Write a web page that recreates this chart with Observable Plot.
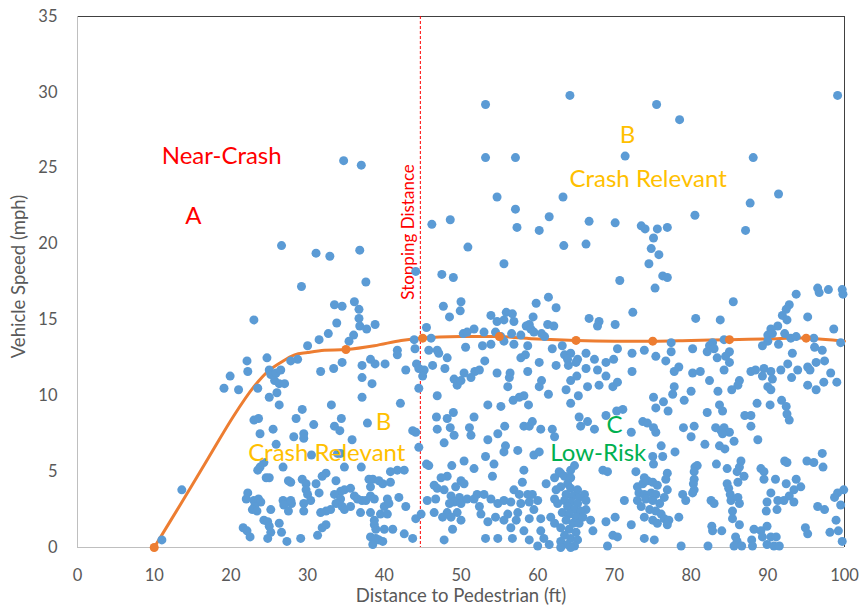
<!DOCTYPE html>
<html><head><meta charset="utf-8">
<script src="https://cdn.jsdelivr.net/npm/d3@7"></script>
<script src="https://cdn.jsdelivr.net/npm/@observablehq/plot@0.6"></script>
<style>body{margin:0;background:#fff;} #chart{width:861px;height:607px;}</style>
</head><body><div id="chart"></div>
<script>
// [distance (ft), speed (mph)] observations, grouped by region of the picture
const pointsNear = [[11.0,0.5],[13.6,3.8],[23.0,15.0],[19.1,10.5],[19.9,11.3],[21.0,10.4],[22.1,12.3],[22.2,11.6],[23.5,10.5],[24.7,12.5],[25.0,11.7],[25.2,11.4],[25.9,11.5],[26.5,11.7],[25.7,11.0],[26.3,10.8],[27.0,10.8],[25.0,9.9],[26.0,10.2],[26.3,9.4],[23.0,8.4],[23.6,8.5],[23.8,7.5],[25.5,7.8],[25.9,6.8],[26.8,5.3],[24.3,5.6],[23.8,5.3],[23.5,5.1],[24.6,4.6],[25.0,4.6],[27.5,4.4],[22.2,3.6],[22.0,3.2],[23.0,3.1],[23.6,3.2],[23.9,3.0],[23.1,2.7],[22.8,2.5],[23.4,2.4],[25.2,2.5],[26.8,3.1],[26.9,2.8],[27.9,2.9],[27.5,2.4],[24.3,1.8],[24.8,1.7],[25.0,1.4],[26.3,1.6],[21.6,1.3],[22.1,1.1],[22.5,0.7],[25.2,1.0],[24.8,0.6],[26.6,1.0],[27.3,0.4],[26.6,19.9]];

const pointsMid = [[33.5,16.0],[34.5,15.9],[36.1,16.2],[36.7,15.7],[33.8,14.8],[36.7,15.1],[36.8,14.6],[37.7,14.4],[38.8,14.7],[32.7,14.1],[31.5,13.7],[30.0,13.3],[36.0,14.0],[35.4,13.6],[28.7,12.4],[27.8,12.3],[34.5,12.2],[33.4,11.8],[31.7,11.6],[37.1,12.0],[38.2,12.4],[38.8,12.1],[40.1,12.1],[41.7,13.0],[41.7,12.7],[42.8,11.7],[44.0,13.1],[43.9,13.7],[44.2,12.1],[44.5,11.8],[45.2,11.7],[45.0,11.3],[44.5,10.5],[45.5,14.5],[46.1,13.8],[45.8,13.0],[46.9,13.0],[47.1,12.8],[47.7,15.9],[48.5,15.2],[50.0,16.2],[49.9,15.6],[46.3,12.0],[48.2,12.5],[47.9,11.8],[50.3,14.1],[50.8,14.2],[50.6,13.2],[50.4,11.5],[49.1,11.1],[49.5,10.7],[50.0,11.0],[37.1,11.2],[38.4,10.8],[37.1,9.9],[42.1,9.5],[46.9,10.0],[33.1,9.4],[29.3,9.1],[28.5,8.5],[30.8,8.1],[33.5,8.0],[34.4,8.5],[34.2,7.7],[37.8,8.2],[29.5,7.5],[28.2,7.3],[29.5,7.2],[35.8,7.1],[43.7,7.7],[44.1,7.6],[44.5,6.6],[46.8,8.6],[48.2,8.5],[49.0,8.9],[46.9,7.8],[48.6,7.9],[49.1,7.4],[47.8,6.9],[51.1,7.9],[30.5,6.1],[33.9,6.2],[34.3,6.2],[45.5,5.5],[45.8,5.4],[48.8,5.4],[50.4,5.7],[34.8,5.3],[37.0,5.3],[42.6,5.1],[41.7,5.1],[40.8,5.0],[32.4,4.9],[31.9,4.7],[27.8,4.3],[29.3,4.5],[29.8,4.2],[31.1,4.2],[33.7,4.4],[38.0,4.5],[38.5,4.5],[39.3,4.4],[39.8,4.2],[40.8,4.3],[38.2,4.0],[34.8,3.8],[35.6,3.9],[34.3,3.7],[33.5,3.5],[29.8,3.8],[30.0,3.5],[30.4,3.1],[29.5,2.9],[31.5,3.6],[27.8,3.1],[36.1,3.4],[36.5,3.2],[37.1,3.1],[37.6,3.1],[38.2,3.4],[38.7,3.2],[40.4,3.2],[41.9,3.3],[45.6,3.1],[40.0,2.7],[40.6,2.9],[42.8,2.7],[34.3,3.2],[33.7,2.9],[33.0,2.5],[32.4,2.4],[31.7,2.3],[34.5,2.7],[34.8,2.5],[35.6,2.7],[29.5,2.4],[36.9,2.3],[38.2,2.3],[39.5,2.2],[40.4,2.2],[44.1,1.9],[44.8,2.2],[46.5,4.1],[46.9,3.9],[47.8,3.8],[48.2,4.7],[47.4,4.6],[50.0,4.4],[50.4,4.2],[49.3,4.0],[48.7,3.4],[49.8,3.3],[49.1,3.0],[50.0,2.9],[50.8,3.2],[48.5,2.9],[48.2,2.3],[49.5,2.3],[50.0,1.8],[46.5,2.3],[47.6,2.0],[48.7,2.0],[46.7,3.2],[31.9,1.3],[32.4,1.5],[29.1,0.6],[31.3,0.8],[38.7,1.8],[38.7,1.5],[38.9,1.2],[40.0,1.2],[41.1,1.2],[42.6,0.9],[38.2,0.7],[38.9,0.6],[39.3,0.5],[38.5,0.2],[39.8,0.4],[43.7,0.6],[48.9,1.2],[47.8,0.5]];

const pointsFast = [[29.2,17.2],[34.7,25.5],[37.0,25.2],[31.1,19.4],[32.9,19.2],[36.8,19.6],[37.6,17.5],[44.1,18.2],[46.2,21.3],[48.6,21.6],[50.9,19.8],[47.5,18.0],[49.0,17.8],[53.2,29.2],[53.2,25.7],[57.1,25.7],[54.7,23.1],[57.1,22.3],[57.3,21.1],[60.2,20.9],[61.5,21.8],[63.3,23.1],[63.4,19.9],[55.6,18.7],[64.2,29.8],[75.5,29.2],[78.5,28.2],[99.1,29.8],[71.4,25.8],[88.1,25.7],[91.4,23.3],[87.7,22.7],[80.5,21.9],[66.7,21.5],[70.1,21.4],[73.5,21.2],[74.0,21.0],[75.6,21.0],[76.9,21.1],[75.1,20.4],[87.1,20.9],[66.3,20.0],[74.8,19.7],[75.8,19.3],[74.5,18.7],[76.3,17.9],[76.9,17.8],[70.7,17.6],[75.3,17.1],[93.7,16.7],[96.5,17.1],[96.7,16.8],[97.9,17.0],[99.7,17.0],[99.8,16.7]];

const pointsFar = [[61.4,16.5],[59.8,16.1],[62.4,15.8],[53.9,15.3],[55.9,15.5],[56.7,15.4],[54.7,14.9],[55.6,15.0],[56.9,14.9],[59.4,15.2],[58.9,14.7],[58.5,14.6],[59.1,14.4],[61.3,14.7],[62.1,14.6],[66.7,15.1],[68.0,14.9],[67.8,14.6],[70.1,14.7],[72.4,15.5],[51.7,14.4],[53.0,14.2],[54.5,14.2],[55.2,13.9],[56.6,14.1],[57.8,14.0],[59.5,14.2],[60.5,14.1],[60.9,13.9],[55.6,13.6],[56.9,13.4],[52.8,13.3],[53.9,13.4],[58.7,13.3],[61.9,13.1],[63.2,13.3],[63.5,12.7],[64.3,12.8],[63.9,12.4],[65.2,12.4],[65.0,12.2],[66.3,12.8],[67.4,12.4],[68.9,12.2],[69.9,12.4],[70.4,13.1],[72.3,12.8],[73.9,13.0],[75.4,12.6],[57.8,12.5],[58.4,12.7],[53.1,12.3],[51.8,11.6],[52.4,11.7],[54.7,11.5],[56.4,11.5],[56.3,11.2],[56.1,10.6],[58.7,11.6],[60.2,12.2],[62.4,12.0],[64.0,12.0],[64.3,11.0],[65.1,11.3],[66.3,11.8],[66.5,10.6],[67.8,11.7],[68.9,11.3],[68.0,10.7],[69.8,10.6],[70.4,10.9],[72.3,11.6],[60.5,11.0],[60.2,10.6],[61.4,10.1],[63.7,10.4],[65.3,10.0],[64.3,9.5],[58.2,10.0],[57.6,9.9],[56.8,9.7],[53.5,9.4],[55.2,9.3],[58.8,9.4],[51.3,11.2],[75.1,9.9],[75.4,9.2],[70.3,9.0],[71.1,9.1],[68.9,8.7],[65.4,8.6],[65.6,8.0],[66.5,8.3],[67.4,7.8],[51.7,8.6],[51.3,7.4],[53.5,7.1],[54.8,7.5],[55.7,8.0],[58.2,8.0],[58.9,8.0],[59.3,8.3],[60.4,7.8],[61.9,7.8],[62.2,7.3],[59.5,6.1],[60.2,6.3],[55.6,6.3],[55.8,6.7],[57.4,6.4],[53.2,6.0],[54.3,5.5],[54.1,4.7],[51.7,5.2],[58.2,5.1],[58.0,4.3],[61.1,4.2],[62.2,4.6],[63.0,4.9],[64.3,5.1],[64.8,5.4],[68.5,5.1],[69.1,5.0],[73.7,8.3],[74.3,8.2],[75.1,7.9],[75.4,7.6],[72.2,7.6],[72.8,5.0],[75.0,6.0],[75.1,5.5],[73.9,4.6],[52.1,3.5],[53.0,3.5],[51.7,3.2],[52.4,2.7],[53.9,3.2],[54.8,2.9],[55.6,3.1],[56.9,3.8],[57.6,3.5],[56.5,3.0],[57.8,2.9],[58.7,3.5],[59.3,3.5],[58.9,3.0],[60.0,3.1],[59.5,2.5],[57.4,2.3],[56.1,2.2],[52.6,2.2],[54.5,2.0],[53.5,1.7],[55.6,1.8],[57.2,1.8],[56.5,1.3],[58.9,1.9],[60.4,1.9],[61.7,2.0],[62.2,1.6],[60.4,1.1],[58.2,1.1],[56.7,0.6],[54.8,0.6],[53.2,0.6],[58.9,0.5],[60.0,0.1],[61.5,0.2],[60.8,0.6],[66.3,2.5],[66.9,1.8],[67.2,1.1],[68.9,1.7],[70.1,2.0],[69.8,0.8],[70.4,0.7],[69.1,0.1],[71.3,3.1],[73.9,0.6],[75.2,0.5],[72.2,1.5],[62.8,5.0],[63.5,4.7],[64.3,4.6],[63.9,4.2],[63.0,4.0],[64.3,3.9],[65.2,3.8],[63.7,3.5],[64.6,3.4],[65.4,3.3],[63.5,3.1],[64.3,3.0],[65.2,2.9],[63.9,2.7],[64.8,2.5],[65.6,2.4],[63.2,2.3],[64.1,2.2],[65.0,2.0],[63.7,1.8],[64.6,1.6],[65.4,1.6],[63.0,1.3],[64.1,1.2],[65.0,1.0],[63.5,0.8],[64.3,0.6],[65.2,0.5],[63.0,0.4],[63.9,0.2],[64.8,0.1],[66.1,3.5],[62.4,3.8],[62.6,2.9],[62.2,3.2],[65.9,2.0],[66.3,3.1],[63.0,0.0],[64.3,0.0],[73.0,4.0],[73.7,4.2],[74.3,4.4],[75.0,4.3],[75.6,4.1],[73.2,3.6],[73.9,3.5],[74.8,3.6],[75.4,3.5],[73.0,3.1],[74.1,3.2],[75.0,3.1],[75.9,2.9],[73.5,2.7],[74.6,2.5],[75.4,2.4],[76.1,2.2],[73.9,2.0],[75.0,1.8],[75.6,1.6]];

const pointsFarthest = [[85.5,16.2],[80.6,15.1],[83.8,15.0],[92.8,16.0],[92.4,15.7],[91.9,15.3],[92.5,15.0],[95.2,15.2],[91.3,14.6],[90.4,14.4],[98.6,14.4],[90.0,14.0],[90.6,14.1],[92.2,14.1],[93.0,13.8],[93.7,13.9],[96.0,13.8],[84.3,13.7],[77.4,13.5],[82.8,13.5],[82.4,13.3],[90.0,13.6],[91.4,13.4],[89.3,13.3],[99.5,13.5],[77.4,12.9],[80.2,13.1],[82.1,12.9],[83.0,13.1],[85.0,12.9],[84.5,12.6],[83.4,12.5],[76.7,12.3],[93.2,12.8],[96.1,13.2],[97.1,13.0],[96.3,12.2],[97.4,12.3],[85.0,12.2],[84.3,11.7],[78.4,11.9],[77.8,11.6],[80.2,11.5],[81.2,11.6],[82.4,11.0],[87.8,11.6],[88.4,11.7],[89.5,11.8],[89.3,11.3],[90.4,11.6],[90.6,11.1],[91.7,11.7],[92.6,12.1],[93.9,11.7],[93.1,11.2],[95.2,11.9],[95.5,11.7],[98.2,11.5],[99.0,10.9],[97.3,10.9],[95.2,10.7],[96.3,10.4],[86.3,11.0],[86.1,10.7],[85.3,10.4],[83.5,10.3],[80.0,10.3],[77.8,10.6],[77.6,10.1],[90.0,10.6],[90.4,10.4],[79.1,9.7],[76.4,9.6],[83.7,9.4],[84.1,9.0],[82.1,8.9],[77.0,9.0],[88.6,9.5],[90.3,9.4],[91.8,9.7],[92.4,9.3],[92.5,8.8],[92.8,8.4],[87.0,8.7],[87.8,8.7],[87.8,8.0],[79.0,7.9],[80.4,8.0],[80.0,7.3],[83.2,7.9],[83.9,7.7],[84.3,7.9],[85.0,7.6],[84.1,7.5],[81.8,6.8],[83.7,6.7],[84.4,6.5],[85.6,7.0],[88.7,7.1],[76.1,6.7],[76.3,6.0],[77.9,6.3],[97.1,6.2],[92.2,5.7],[92.5,5.6],[95.1,5.7],[96.0,5.6],[97.2,5.3],[83.3,5.5],[86.5,5.7],[86.3,5.3],[86.0,5.0],[84.7,5.2],[89.1,5.2],[89.5,5.0],[80.5,5.3],[80.8,5.4],[80.4,5.0],[80.4,4.5],[80.3,4.2],[80.4,3.8],[80.2,3.6],[76.9,4.9],[76.7,4.5],[86.9,4.7],[86.1,4.3],[84.7,4.2],[84.9,3.9],[85.1,3.5],[89.5,4.5],[91.0,4.5],[93.7,4.5],[92.4,4.2],[94.3,4.0],[93.4,3.8],[90.4,3.6],[99.9,3.8],[99.1,3.6],[98.7,3.3],[78.9,3.5],[79.3,3.1],[76.9,3.8],[76.5,3.3],[82.6,3.1],[83.0,2.9],[85.2,3.1],[86.1,3.3],[86.3,2.9],[85.4,2.4],[85.4,1.9],[91.3,3.1],[92.1,3.1],[92.8,3.4],[93.4,3.0],[89.9,3.0],[89.8,2.4],[91.2,2.5],[96.5,2.7],[97.4,2.5],[99.5,2.8],[98.9,1.8],[78.4,2.0],[76.5,1.9],[77.1,1.8],[76.9,1.5],[86.3,1.5],[82.7,1.4],[82.8,1.1],[84.0,1.1],[88.2,1.2],[89.9,1.4],[89.1,1.1],[89.3,0.7],[90.4,0.7],[91.1,0.7],[94.9,1.3],[95.2,0.9],[98.1,1.0],[99.2,1.1],[99.7,0.4],[78.7,0.1],[82.2,0.1],[85.8,0.7],[86.0,0.4],[86.6,0.1],[85.6,0.1],[87.9,0.5],[88.0,0.1],[89.9,0.2],[90.8,0.1],[91.5,0.1]];

// Fitted trend (orange) line and its markers
const trendDistance = [10, 13.5, 17, 20.4, 23, 24.8, 26.5, 28.3, 30, 32.2, 35, 38.7, 42.2, 45, 50, 55, 60, 65, 70, 75, 80, 85, 90, 95, 100];
const trendSpeed    = [0, 2.9, 5.85, 8.7, 10.6, 11.6, 12.2, 12.7, 12.85, 13.0, 13.05, 13.3, 13.65, 13.8, 13.9, 13.9, 13.75, 13.65, 13.6, 13.6, 13.65, 13.7, 13.75, 13.8, 13.6];
const markerDistance = [10, 35, 45, 55, 65, 75, 85, 95];
const markerSpeed    = [0, 13.05, 13.8, 13.9, 13.65, 13.6, 13.7, 13.8];

const stoppingDistance = 44.7;
const xTicks = [0, 10, 20, 30, 40, 50, 60, 70, 80, 90, 100];
const yTicks = [0, 5, 10, 15, 20, 25, 30, 35];

const labelText  = ["Near-Crash", "A", "B", "Crash Relevant", "B", "Crash Relevant", "C", "Low-Risk"];
const labelX     = [18.8, 15.1, 71.7, 74.4, 39.9, 32.5, 70.0, 67.9];
const labelY     = [25.8, 21.8, 27.2, 24.3, 8.25, 6.2, 8.05, 6.2];
const labelColor = ["#FF0000", "#FF0000", "#FFC000", "#FFC000", "#FFC000", "#FFC000", "#00B050", "#00B050"];

const points = [...pointsNear, ...pointsMid, ...pointsFast, ...pointsFar, ...pointsFarthest]
  .map(([d, s]) => ({distance: d, speed: s}));
const trend = trendDistance.map((d, i) => ({distance: d, speed: trendSpeed[i]}));
const markers = markerDistance.map((d, i) => ({distance: d, speed: markerSpeed[i]}));
const labels = labelText.map((t, i) => ({text: t, x: labelX[i], y: labelY[i], color: labelColor[i]}));

const chart = Plot.plot({
  width: 861,
  height: 607,
  marginLeft: 77,
  marginRight: 17,
  marginTop: 16,
  marginBottom: 60,
  style: {fontFamily: "Lato, sans-serif", background: "#fff", color: "#595959"},
  x: {domain: [0, 100]},
  y: {domain: [0, 35]},
  marks: [
    Plot.ruleY([35], {stroke: "#404040", strokeWidth: 1}),
    Plot.ruleX([100], {stroke: "#404040", strokeWidth: 1}),
    Plot.ruleY([0], {stroke: "#bfbfbf", strokeWidth: 1}),
    Plot.ruleX([0], {stroke: "#bfbfbf", strokeWidth: 1}),
    Plot.axisX({ticks: xTicks, tickSize: 0, tickPadding: 21.5, label: null, fontSize: 16.5, fill: "#595959"}),
    Plot.axisY({ticks: yTicks, tickSize: 0, tickPadding: 20, label: null, fontSize: 16.5, fill: "#595959"}),
    Plot.text(["Distance to Pedestrian (ft)"], {frameAnchor: "bottom", dy: 48.5, lineAnchor: "middle", textAnchor: "middle", text: d => d, fontSize: 18.5, fill: "#595959"}),
    Plot.text(["Vehicle Speed (mph)"], {frameAnchor: "left", dx: -58, dy: -5.5, lineAnchor: "middle", textAnchor: "middle", rotate: -90, text: d => d, fontSize: 18.5, fill: "#595959"}),
    Plot.ruleX([stoppingDistance], {stroke: "#FF0000", strokeWidth: 1, strokeDasharray: "3,2"}),
    Plot.text(["Stopping Distance"], {x: () => 43.2, y: () => 20.8, rotate: -90, text: d => d, fontSize: 17, fill: "#FF0000"}),
    Plot.line(trend, {x: "distance", y: "speed", stroke: "#ED7D31", strokeWidth: 3, curve: "catmull-rom"}),
    Plot.dot(points, {x: "distance", y: "speed", r: 4.5, fill: "#5B9BD5", stroke: "none"}),
    Plot.dot(markers, {x: "distance", y: "speed", r: 4.5, fill: "#ED7D31", stroke: "none"}),
    Plot.text(labels, {x: "x", y: "y", text: "text", fill: "color", fontSize: 24})
  ]
});
document.getElementById("chart").appendChild(chart);
</script>
</body></html>
